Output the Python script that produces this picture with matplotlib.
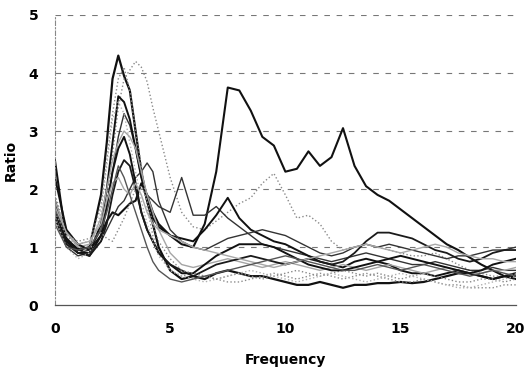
import numpy as np
import matplotlib
matplotlib.use("Agg")
import matplotlib.pyplot as plt

freq = [0, 0.5, 1, 1.5, 2, 2.25, 2.5, 2.75, 3, 3.25, 3.5, 3.75, 4, 4.25, 4.5,
        5, 5.5, 6, 6.5, 7, 7.5, 8, 8.5, 9, 9.5, 10, 10.5, 11, 11.5, 12, 12.5,
        13, 13.5, 14, 14.5, 15, 15.5, 16, 16.5, 17, 17.5, 18, 18.5, 19, 19.5, 20]

s1 = [2.5, 1.1, 0.98, 0.85, 1.2, 1.45, 1.6, 1.55, 1.65, 1.75, 1.8, 2.1, 1.9, 1.6, 1.4,
      1.2, 1.05, 1.0, 1.4, 2.3, 3.75, 3.7, 3.35, 2.9, 2.75, 2.3, 2.35, 2.65, 2.4, 2.55, 3.05,
      2.4, 2.05, 1.9, 1.8, 1.65, 1.5, 1.35, 1.2, 1.05, 0.95, 0.82, 0.7, 0.6, 0.5, 0.45]
s2 = [1.8, 1.15, 0.95, 1.0, 1.9, 2.8, 3.9, 4.3, 3.95, 3.7, 3.0, 2.3, 1.8, 1.4, 1.0,
      0.6, 0.45, 0.5, 0.45, 0.55, 0.6, 0.55, 0.5, 0.5, 0.45, 0.4, 0.35, 0.35, 0.4, 0.35, 0.3,
      0.35, 0.35, 0.38, 0.38, 0.4, 0.38, 0.4, 0.45, 0.5, 0.55, 0.55, 0.5, 0.45, 0.5, 0.55]
s3 = [1.6, 1.2, 1.0, 1.05, 1.3, 1.8, 2.6, 3.4, 3.9, 4.05, 4.2, 4.1, 3.85, 3.4, 3.0,
      2.2, 1.6, 1.35, 1.3, 1.45, 1.6, 1.75, 1.85, 2.1, 2.27, 1.9, 1.5, 1.55, 1.4, 1.1, 0.95,
      1.0, 1.05, 1.0, 0.95, 0.9, 0.85, 0.85, 0.9, 0.8, 0.7, 0.6, 0.55, 0.5, 0.5, 0.55]
s4 = [1.7, 1.1, 0.9, 0.95, 1.3, 1.7, 2.3, 2.9, 3.3, 3.1, 2.7, 2.2, 1.9, 1.8, 1.7,
      1.6, 2.2, 1.55, 1.55, 1.7, 1.5, 1.35, 1.2, 1.05, 1.0, 0.95, 0.9, 0.85, 0.8, 0.75, 0.8,
      0.85, 0.9, 0.85, 0.8, 0.75, 0.7, 0.7, 0.75, 0.7, 0.65, 0.6, 0.6, 0.65, 0.6, 0.6]
s5 = [1.6, 1.1, 0.9, 0.9, 1.4, 2.0, 2.8, 3.6, 3.5, 3.2, 2.7, 2.2, 1.8, 1.5, 1.35,
      1.2, 1.15, 1.1, 1.3, 1.55, 1.85, 1.5, 1.3, 1.2, 1.1, 1.05, 0.95, 0.85, 0.75, 0.7, 0.65,
      0.75, 0.8, 0.75, 0.7, 0.6, 0.55, 0.55, 0.5, 0.55, 0.6, 0.55, 0.5, 0.45, 0.5, 0.5]
s6 = [1.5, 1.0, 0.85, 0.9, 1.1, 1.3, 1.5, 1.7, 1.8, 2.0, 2.2, 2.3, 2.45, 2.3, 1.8,
      1.3, 1.1, 1.0, 0.95, 1.05, 1.15, 1.2, 1.25, 1.3, 1.25, 1.2, 1.1, 1.0, 0.9, 0.85, 0.9,
      1.0, 1.05, 1.0, 1.05, 1.0, 0.95, 0.9, 0.85, 0.8, 0.85, 0.85, 0.9, 0.95, 0.95, 1.0]
s7 = [1.9, 1.3, 1.05, 1.1, 1.7, 2.5, 3.3, 3.9, 4.1, 3.7, 3.0, 2.4, 1.7, 1.2, 0.9,
      0.6, 0.5, 0.55, 0.5, 0.45, 0.5, 0.55, 0.5, 0.45, 0.5, 0.55, 0.6, 0.55, 0.5, 0.55, 0.6,
      0.55, 0.5, 0.55, 0.5, 0.45, 0.5, 0.55, 0.5, 0.45, 0.4, 0.4, 0.45, 0.45, 0.4, 0.45]
s8 = [1.8, 1.25, 1.0, 1.05, 1.5, 2.0, 2.5, 2.8, 3.0, 2.9, 2.7, 2.3, 1.9, 1.6, 1.3,
      0.9, 0.7, 0.65, 0.7, 0.75, 0.8, 0.75, 0.7, 0.65, 0.7, 0.75, 0.7, 0.65, 0.6, 0.65, 0.7,
      0.65, 0.6, 0.65, 0.7, 0.65, 0.6, 0.55, 0.6, 0.65, 0.6, 0.55, 0.55, 0.6, 0.6, 0.65]
s9 = [2.2, 1.3, 1.05, 0.95, 1.2, 1.7, 2.3, 2.7, 2.9, 2.6, 2.1, 1.6, 1.3, 1.1, 0.9,
      0.7, 0.55, 0.55, 0.7, 0.85, 0.95, 1.05, 1.05, 1.05, 1.0, 0.9, 0.8, 0.7, 0.65, 0.6, 0.6,
      0.65, 0.7, 0.75, 0.8, 0.85, 0.8, 0.75, 0.7, 0.65, 0.6, 0.55, 0.6, 0.7, 0.75, 0.8]
s10 = [1.5, 1.05, 0.9, 0.85, 1.1, 1.4, 1.9, 2.3, 2.5, 2.4, 2.0, 1.6, 1.3, 1.1, 0.9,
       0.7, 0.6, 0.5, 0.6, 0.7, 0.75, 0.8, 0.85, 0.8, 0.75, 0.7, 0.75, 0.8, 0.75, 0.7, 0.75,
       0.9, 1.1, 1.25, 1.25, 1.2, 1.15, 1.05, 0.95, 0.9, 0.8, 0.75, 0.8, 0.9, 0.95, 0.95]
s11 = [1.6, 1.2, 1.1, 1.15, 1.25, 1.15, 1.1, 1.3, 1.5, 1.75, 2.0, 2.05, 1.8, 1.4, 1.1,
       0.8, 0.6, 0.55, 0.5, 0.45, 0.4, 0.4, 0.45, 0.5, 0.55, 0.5, 0.45, 0.5, 0.55, 0.5, 0.45,
       0.5, 0.55, 0.5, 0.45, 0.4, 0.4, 0.45, 0.4, 0.35, 0.35, 0.3, 0.3, 0.3, 0.35, 0.35]
s12 = [1.7, 1.25, 1.05, 1.1, 1.4, 1.8, 2.1, 2.2, 2.0, 1.9, 2.1, 1.9, 1.6, 1.4, 1.3,
       1.2, 1.1, 1.0, 0.95, 0.9, 0.85, 0.8, 0.75, 0.7, 0.65, 0.7, 0.75, 0.8, 0.85, 0.9, 0.95,
       1.0, 1.05, 1.0, 0.95, 0.9, 0.95, 1.0, 1.05, 1.0, 0.9, 0.85, 0.8, 0.8, 0.75, 0.75]
s13 = [1.5, 1.0, 0.8, 0.9, 1.6, 2.4, 3.2, 3.5, 3.3, 2.8, 2.3, 1.8, 1.4, 1.1, 0.85,
       0.6, 0.5, 0.45, 0.4, 0.45, 0.5, 0.55, 0.6, 0.55, 0.5, 0.45, 0.4, 0.45, 0.5, 0.55, 0.5,
       0.45, 0.4, 0.45, 0.5, 0.55, 0.5, 0.45, 0.4, 0.35, 0.3, 0.3, 0.35, 0.4, 0.45, 0.5]
s14 = [1.4, 1.0, 0.95, 1.0, 1.3, 1.6, 2.0, 2.4, 2.2, 1.9, 1.6, 1.3, 1.0, 0.75, 0.6,
       0.45, 0.4, 0.45, 0.5, 0.55, 0.6, 0.65, 0.7, 0.75, 0.8, 0.85, 0.8, 0.75, 0.7, 0.65, 0.6,
       0.6, 0.65, 0.7, 0.65, 0.6, 0.65, 0.7, 0.65, 0.6, 0.55, 0.5, 0.55, 0.6, 0.55, 0.5]

series = [s1, s2, s3, s4, s5, s6, s7, s8, s9, s10, s11, s12, s13, s14]
styles = [
    dict(color="#111111", lw=1.5, ls="-"),
    dict(color="#111111", lw=1.6, ls="-"),
    dict(color="#8a8a8a", lw=1.0, ls=":"),
    dict(color="#333333", lw=1.0, ls="-"),
    dict(color="#111111", lw=1.4, ls="-"),
    dict(color="#333333", lw=1.0, ls="-"),
    dict(color="#888888", lw=1.0, ls=":"),
    dict(color="#a5a5a5", lw=1.0, ls="-"),
    dict(color="#111111", lw=1.4, ls="-"),
    dict(color="#1a1a1a", lw=1.3, ls="-"),
    dict(color="#8c8c8c", lw=1.0, ls=":"),
    dict(color="#a8a8a8", lw=1.0, ls="-"),
    dict(color="#b0b0b0", lw=1.0, ls=":"),
    dict(color="#555555", lw=1.0, ls="-"),
]

fig = plt.figure(figsize=(5.28, 3.74), dpi=100)
ax = fig.add_axes([0.104, 0.184, 0.873, 0.776])

for yv in [1, 2, 3, 4, 5]:
    ax.axhline(yv, color="#777777", lw=0.8, ls=(0, (5, 6)), zorder=0)

for s, st in zip(series, styles):
    ax.plot(freq, s, color=st["color"], lw=st["lw"], ls=st["ls"])

ax.set_xlim(0, 20)
ax.set_ylim(0, 5)
ax.set_xticks([0, 5, 10, 15, 20])
ax.set_yticks([0, 1, 2, 3, 4, 5])
ax.tick_params(length=0, labelsize=10, pad=12)
for lab in ax.get_xticklabels() + ax.get_yticklabels():
    lab.set_fontweight("bold")
for side in ["top", "right"]:
    ax.spines[side].set_visible(False)
ax.spines["left"].set_color("#888888")
ax.spines["left"].set_linestyle((0, (4, 2, 1, 2)))
ax.spines["left"].set_linewidth(0.8)
ax.spines["bottom"].set_color("#555555")
ax.spines["bottom"].set_linewidth(0.9)

ax.set_xlabel("Frequency", fontsize=10, fontweight="bold", labelpad=12)
ax.set_ylabel("Ratio", fontsize=10, fontweight="bold", labelpad=8)

fig.savefig("out.png", dpi=100)
